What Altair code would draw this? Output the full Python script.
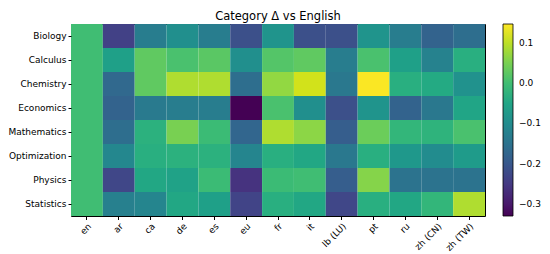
import altair as alt
import pandas as pd

languages = ["en", "ar", "ca", "de", "es", "eu", "fr", "it", "lb (LU)", "pt", "ru", "zh (CN)", "zh (TW)"]
categories = ["Biology", "Calculus", "Chemistry", "Economics", "Mathematics", "Optimization", "Physics", "Statistics"]

biology      = [0.0, -0.24, -0.13, -0.095, -0.13, -0.215, -0.085, -0.215, -0.215, -0.085, -0.13, -0.18, -0.16]
calculus     = [0.0, -0.06, 0.03, 0.01, 0.025, -0.095, 0.02, 0.03, -0.13, 0.01, -0.06, -0.12, -0.03]
chemistry    = [0.0, -0.17, 0.03, 0.09, 0.09, -0.16, 0.07, 0.115, -0.14, 0.145, -0.03, -0.04, -0.09]
economics    = [0.0, -0.18, -0.135, -0.13, -0.13, -0.33, 0.01, -0.095, -0.215, -0.085, -0.18, -0.14, -0.05]
mathematics  = [0.0, -0.16, -0.025, 0.05, -0.005, -0.175, 0.09, 0.065, -0.19, 0.04, -0.015, -0.02, 0.01]
optimization = [0.0, -0.11, -0.03, -0.025, -0.025, -0.115, -0.03, -0.045, -0.14, -0.03, -0.075, -0.1, -0.07]
physics      = [0.0, -0.23, -0.045, -0.055, -0.005, -0.26, -0.005, 0.0, -0.19, 0.06, -0.15, -0.15, -0.15]
statistics   = [0.0, -0.125, -0.115, -0.045, -0.06, -0.235, -0.03, -0.045, -0.23, -0.03, -0.045, -0.015, 0.09]

rows = [biology, calculus, chemistry, economics, mathematics, optimization, physics, statistics]
records = []
for cat, vals in zip(categories, rows):
    for lang, v in zip(languages, vals):
        records.append({"category": cat, "language": lang, "delta": v})
df = pd.DataFrame(records)

FONT = "DejaVu Sans"

chart = alt.Chart(df).mark_rect().encode(
    x=alt.X("language:N", sort=languages, title=None,
            axis=alt.Axis(labelAngle=-45, labelAlign="right", labelBaseline="top",
                          tickSize=3.5, labelPadding=2, domain=False,
                          labelFont=FONT, labelFontSize=9, labelColor="black",
                          tickColor="black")),
    y=alt.Y("category:N", sort=categories, title=None,
            axis=alt.Axis(tickSize=3, labelPadding=2, domain=False,
                          labelFont=FONT, labelFontSize=9, labelColor="black",
                          tickColor="black")),
    color=alt.Color("delta:Q", title=None,
                    scale=alt.Scale(scheme="viridis", domain=[-0.33, 0.147]),
                    legend=alt.Legend(gradientLength=192, gradientThickness=10,
                                      offset=18, values=[-0.3, -0.2, -0.1, 0.0, 0.1],
                                      labelFont=FONT, labelFontSize=9, labelColor="black",
                                      labelExpr="replace(format(datum.value, '.1f'), '-', '\u2212')",
                                      gradientStrokeColor="black", gradientStrokeWidth=0.8,
                                      labelOffset=6)),
).properties(
    width=414, height=192,
    title=alt.TitleParams("Category \u0394 vs English", font=FONT, fontSize=11.5,
                          fontWeight="normal", color="black", offset=2),
    autosize=alt.AutoSizeParams(type="none"),
    padding={"left": 63, "top": 16, "right": 57, "bottom": 36},
).configure_view(
    stroke="black", strokeWidth=1
).configure_scale(bandPaddingInner=0, bandPaddingOuter=0)

chart.save("out.html", embed_options={"renderer": "svg", "actions": False})
